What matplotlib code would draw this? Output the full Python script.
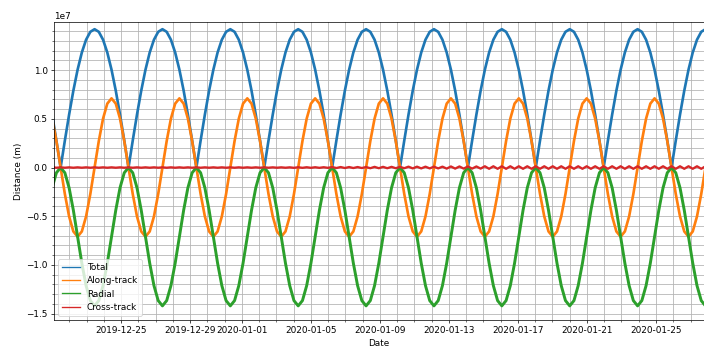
import numpy as np
import pandas as pd
import matplotlib
matplotlib.use("Agg")
import matplotlib.pyplot as plt
import matplotlib.dates as mdates
from matplotlib.ticker import AutoMinorLocator

# samples every 354 minutes, distances in units of 1e7 m
start = "2019-12-21 00:12"
step = "354min"

total = [
    0.543, 0.277,
    0.0, 0.277, 0.543, 0.789, 1.004, 1.181, 1.312, 1.393, 1.42, 1.393, 1.312, 1.181, 1.004, 0.789, 0.543, 0.277,
    0.0, 0.277, 0.543, 0.789, 1.004, 1.181, 1.312, 1.393, 1.42, 1.393, 1.312, 1.181, 1.004, 0.789, 0.543, 0.277,
    0.0, 0.277, 0.543, 0.789, 1.004, 1.181, 1.312, 1.393, 1.42, 1.393, 1.312, 1.181, 1.004, 0.789, 0.543, 0.277,
    0.0, 0.277, 0.543, 0.789, 1.004, 1.181, 1.312, 1.393, 1.42, 1.393, 1.312, 1.181, 1.004, 0.789, 0.543, 0.277,
    0.0, 0.277, 0.543, 0.789, 1.004, 1.181, 1.312, 1.393, 1.42, 1.393, 1.312, 1.181, 1.004, 0.789, 0.543, 0.277,
    0.0, 0.277, 0.543, 0.789, 1.004, 1.181, 1.312, 1.393, 1.42, 1.393, 1.312, 1.181, 1.004, 0.789, 0.543, 0.277,
    0.0, 0.277, 0.543, 0.789, 1.004, 1.181, 1.312, 1.393, 1.42, 1.393, 1.312, 1.181, 1.004, 0.789, 0.543, 0.277,
    0.0, 0.277, 0.543, 0.789, 1.004, 1.181, 1.312, 1.393, 1.42, 1.393, 1.312, 1.181, 1.004, 0.789, 0.543, 0.277,
    0.0, 0.277, 0.543, 0.789, 1.004, 1.181, 1.312, 1.393, 1.42, 1.393, 1.312, 1.181, 1.004, 0.789, 0.543, 0.277,
    0.0, 0.277, 0.543, 0.789, 1.004, 1.181, 1.312, 1.393, 1.42,
]

along_track = [
    0.502, 0.272,
    0.0, -0.272, -0.502, -0.656, -0.71, -0.656, -0.502, -0.272, 0.0, 0.272, 0.502, 0.656, 0.71, 0.656, 0.502, 0.272,
    0.0, -0.272, -0.502, -0.656, -0.71, -0.656, -0.502, -0.272, 0.0, 0.272, 0.502, 0.656, 0.71, 0.656, 0.502, 0.272,
    0.0, -0.272, -0.502, -0.656, -0.71, -0.656, -0.502, -0.272, 0.0, 0.272, 0.502, 0.656, 0.71, 0.656, 0.502, 0.272,
    0.0, -0.272, -0.502, -0.656, -0.71, -0.656, -0.502, -0.272, 0.0, 0.272, 0.502, 0.656, 0.71, 0.656, 0.502, 0.272,
    0.0, -0.272, -0.502, -0.656, -0.71, -0.656, -0.502, -0.272, 0.0, 0.272, 0.502, 0.656, 0.71, 0.656, 0.502, 0.272,
    0.0, -0.272, -0.502, -0.656, -0.71, -0.656, -0.502, -0.272, 0.0, 0.272, 0.502, 0.656, 0.71, 0.656, 0.502, 0.272,
    0.0, -0.272, -0.502, -0.656, -0.71, -0.656, -0.502, -0.272, 0.0, 0.272, 0.502, 0.656, 0.71, 0.656, 0.502, 0.272,
    0.0, -0.272, -0.502, -0.656, -0.71, -0.656, -0.502, -0.272, 0.0, 0.272, 0.502, 0.656, 0.71, 0.656, 0.502, 0.272,
    0.0, -0.272, -0.502, -0.656, -0.71, -0.656, -0.502, -0.272, 0.0, 0.272, 0.502, 0.656, 0.71, 0.656, 0.502, 0.272,
    0.0, -0.272, -0.502, -0.656, -0.71, -0.656, -0.502, -0.272, 0.0,
]

radial = [
    -0.208, -0.054,
    0.0, -0.054, -0.208, -0.438, -0.71, -0.982, -1.212, -1.366, -1.42, -1.366, -1.212, -0.982, -0.71, -0.438, -0.208, -0.054,
    0.0, -0.054, -0.208, -0.438, -0.71, -0.982, -1.212, -1.366, -1.42, -1.366, -1.212, -0.982, -0.71, -0.438, -0.208, -0.054,
    0.0, -0.054, -0.208, -0.438, -0.71, -0.982, -1.212, -1.366, -1.42, -1.366, -1.212, -0.982, -0.71, -0.438, -0.208, -0.054,
    0.0, -0.054, -0.208, -0.438, -0.71, -0.982, -1.212, -1.366, -1.42, -1.366, -1.212, -0.982, -0.71, -0.438, -0.208, -0.054,
    0.0, -0.054, -0.208, -0.438, -0.71, -0.982, -1.212, -1.366, -1.42, -1.366, -1.212, -0.982, -0.71, -0.438, -0.208, -0.054,
    0.0, -0.054, -0.208, -0.438, -0.71, -0.982, -1.212, -1.366, -1.42, -1.366, -1.212, -0.982, -0.71, -0.438, -0.208, -0.054,
    0.0, -0.054, -0.208, -0.438, -0.71, -0.982, -1.212, -1.366, -1.42, -1.366, -1.212, -0.982, -0.71, -0.438, -0.208, -0.054,
    0.0, -0.054, -0.208, -0.438, -0.71, -0.982, -1.212, -1.366, -1.42, -1.366, -1.212, -0.982, -0.71, -0.438, -0.208, -0.054,
    0.0, -0.054, -0.208, -0.438, -0.71, -0.982, -1.212, -1.366, -1.42, -1.366, -1.212, -0.982, -0.71, -0.438, -0.208, -0.054,
    0.0, -0.054, -0.208, -0.438, -0.71, -0.982, -1.212, -1.366, -1.42,
]

cross_track = [
    0.002, -0.002, 0.002, -0.002, 0.002, -0.002, 0.002, -0.002, 0.002, -0.002,
    0.002, -0.002, 0.002, -0.002, 0.002, -0.002, 0.002, -0.002, 0.002, -0.002,
    0.002, -0.002, 0.002, -0.002, 0.002, -0.002, 0.002, -0.002, 0.002, -0.002,
    0.002, -0.002, 0.002, -0.002, 0.002, -0.002, 0.002, -0.002, 0.002, -0.002,
    0.002, -0.002, 0.002, -0.002, 0.002, -0.002, 0.002, -0.002, 0.002, -0.002,
    0.002, -0.002, 0.002, -0.002, 0.002, -0.002, 0.002,
    -0.003, 0.003, -0.003, 0.003, -0.003, 0.003, -0.003, 0.003, -0.003,
    0.005, -0.005, 0.005, -0.005, 0.005, -0.005, 0.005, -0.005, 0.005,
    -0.007, 0.007, -0.007, 0.007, -0.007, 0.007, -0.007, 0.007, -0.007,
    0.009, -0.009, 0.009, -0.009, 0.009, -0.009, 0.009, -0.009, 0.009,
    -0.011, 0.011, -0.011, 0.011, -0.011, 0.011, -0.011, 0.011, -0.011,
    0.013, -0.013, 0.013, -0.013, 0.013, -0.013, 0.013, -0.013, 0.013, -0.013,
    0.013, -0.013, 0.013, -0.013, 0.013, -0.013, 0.013, -0.013, 0.013, -0.013,
    0.013, -0.013, 0.013, -0.013, 0.013, -0.013, 0.013, -0.013, 0.013, -0.013,
    0.013, -0.013, 0.013, -0.013, 0.013, -0.013, 0.013, -0.013, 0.013, -0.013,
    0.013, -0.013, 0.013, -0.013, 0.013, -0.013, 0.013, -0.013, 0.013, -0.013,
    0.013, -0.013, 0.013,
]

times = pd.date_range(start, periods=len(total), freq=step)
scale = 1e7

# figure at 64 dpi so default sizes come out small, like a downscaled plot
fig = plt.figure(figsize=(11, 5.4375), dpi=64)
ax = fig.add_axes([0.0767, 0.0805, 0.9233, 0.8563])

ax.plot(times, np.array(total) * scale, lw=3.0, label="Total")
ax.plot(times, np.array(along_track) * scale, lw=3.0, label="Along-track")
ax.plot(times, np.array(radial) * scale, lw=3.3, label="Radial")
ax.plot(times, np.array(cross_track) * scale, lw=2.6, label="Cross-track")

ax.set_xlim(pd.Timestamp("2019-12-21 02:47"), pd.Timestamp("2020-01-27 18:45"))
ax.set_ylim(-1.565e7, 1.494e7)

ax.xaxis.set_major_locator(mdates.DayLocator(bymonthday=[1, 5, 9, 13, 17, 21, 25, 29]))
ax.xaxis.set_minor_locator(mdates.DayLocator())
ax.xaxis.set_major_formatter(mdates.DateFormatter("%Y-%m-%d"))
ax.yaxis.set_minor_locator(AutoMinorLocator(5))

ax.grid(which="both", color="#b3b3b3", lw=0.9)
ax.set_axisbelow(True)
ax.spines["right"].set_visible(False)

ax.set_xlabel("Date")
ax.set_ylabel("Distance (m)")
leg = ax.legend(loc="lower left")
for handle in leg.get_lines():
    handle.set_linewidth(1.5)

fig.savefig("out.png", dpi=64)
